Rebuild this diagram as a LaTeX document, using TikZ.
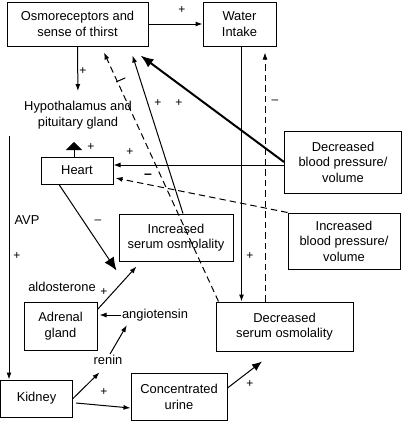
\documentclass[tikz,border=0pt]{standalone}
\usepackage{fontspec}
\setmainfont{Liberation Sans}
\usetikzlibrary{arrows.meta, positioning}

\begin{document}
\begin{tikzpicture}[
      x=1pt,
      y=-1pt,
      font=\fontsize{12.9}{15.5}\selectfont,
      box/.style={
          rectangle,
          draw,
          align=center,
          inner sep=0pt,
          line width=1pt
        },
      lbl/.style={
          align=center,
          inner sep=1pt
        },
      sign/.style={
          inner sep=0pt,
          font=\fontsize{12}{12}\selectfont
        },
      arrow/.style={
          -{Latex[length=7pt,width=5pt]},
          line width=1pt
        },
      dasharrow/.style={
          arrow,
          dash pattern=on 6.5pt off 4pt
        },
      midarrow/.style={
          -{Latex[length=10pt,width=8pt]},
          line width=1pt
        },
      bigarrow/.style={
          -{Latex[length=13pt,width=11pt]},
          line width=1pt
        },
      thickarrow/.style={
          -{Latex[length=13pt,width=10pt]},
          line width=2pt
        }
    ]
    \useasboundingbox (0,0) rectangle (402,423);

    % Nodes
    \node[box, minimum width=141pt, minimum height=44pt] (osmo) at (77.5,24) {Osmoreceptors and\\sense of thirst};
    \node[box, minimum width=73pt, minimum height=44pt] (water) at (239.5,24) {Water\\Intake};
    \node[lbl] (hypo) at (78,115) {Hypothalamus and\\pituitary gland};
    \node[box, minimum width=72pt, minimum height=27pt] (heart) at (77,170.5) {Heart};
    \node[box, minimum width=117pt, minimum height=62pt] (decbp) at (343,162) {Decreased\\blood pressure/\\volume};
    \node[box, minimum width=112pt, minimum height=56pt] (incbp) at (344,241) {Increased\\blood pressure/\\volume};
    \node[box, minimum width=114pt, minimum height=47pt] (incosm) at (176,237.5) {Increased\\serum osmolality};
    \node[box, minimum width=137pt, minimum height=49pt] (decosm) at (284.5,326.5) {Decreased\\serum osmolality};
    \node[box, minimum width=73pt, minimum height=48pt] (adrenal) at (60.5,326) {Adrenal\\gland};
    \node[box, minimum width=72pt, minimum height=37pt] (kidney) at (36.5,398.5) {Kidney};
    \node[box, minimum width=96pt, minimum height=47pt] (urine) at (179,397) {Concentrated\\urine};

    \node[lbl] (avp) at (27,220) {AVP};
    \node[lbl] (aldo) at (62,287) {aldosterone};
    \node[lbl] (angio) at (155,315) {angiotensin};
    \node[lbl] (renin) at (108,360) {renin};

    % Signs
    \foreach \x/\y [count=\i] in {182/10, 83/71, 158/103, 179/103, 91/147, 130/152, 17/256, 250/256, 104/292, 104/392, 250/384}
      \node[sign] (plus\i) at (\x,\y) {+};
    \node[sign] (minus1) at (275,102) {--};
    \node[sign] (minus2) at (98,222) {--};
    \node[sign, font=\fontsize{14}{14}\selectfont\bfseries] (minus3) at (148,176) {--};

    \coordinate (avptop) at (9,136);
    \coordinate (heartup) at (74,142);

    % Arrows
    \draw[arrow] (osmo.east) -- (water.west);
    \draw[arrow, shorten >=9pt] (osmo.south) -- (hypo.north);
    \draw[arrow] (avptop) -- (avptop |- kidney.north);
    \draw[-{Triangle[length=8pt,width=16pt]}, line width=1pt] ([xshift=-3pt]heart.north) -- (heartup);
    \draw[bigarrow] ([xshift=-18pt]heart.south) -- ([shift={(-2pt,-9pt)}]incosm.south west);
    \draw[arrow] ([yshift=-3pt]decbp.west) -- ([yshift=5.5pt]heart.east);
    \draw[dasharrow] (incbp.north west) -- ([shift={(2pt,-7.5pt)}]heart.east);
    \draw[thickarrow] (decbp.west) -- ([shift={(-8pt,-9pt)}]osmo.south east);
    \draw[arrow] ([xshift=2pt]water.south) -- ([xshift=-43pt]decosm.north);
    \draw[dasharrow, shorten >=6pt] ([xshift=-19.5pt]decosm.north) -- ([xshift=25.5pt]water.south);
    \draw[arrow] ([xshift=7pt]incosm.north) -- ([shift={(-16pt,-9pt)}]osmo.south east);
    \draw[dasharrow] ([xshift=3pt]decosm.north west) -- coordinate[pos=0.884] (bar) ([shift={(26.5pt,-6pt)}]osmo.south);
    \draw[line width=1pt] ([shift={(-1pt,-0.5pt)}]bar) -- ++(9,-4);
    \draw[arrow] (kidney.east) -- ([shift={(7pt,-6.5pt)}]renin.south west);
    \draw[arrow] ([xshift=2pt]renin.north) -- ([shift={(6pt,-3pt)}]angio.south west);
    \draw[arrow, shorten >=2pt] (angio.west) -- (angio.west -| adrenal.east);
    \draw[arrow] ([yshift=-8pt]adrenal.north east) -- ([shift={(18pt,-5pt)}]incosm.south west);
    \draw[arrow] ([shift={(3pt,-4.5pt)}]kidney.east) -- ([yshift=-11pt]urine.west);
    \draw[midarrow] ([yshift=9pt]urine.east) -- ([shift={(-22.5pt,-10pt)}]decosm.south);

  \end{tikzpicture}
\end{document}
